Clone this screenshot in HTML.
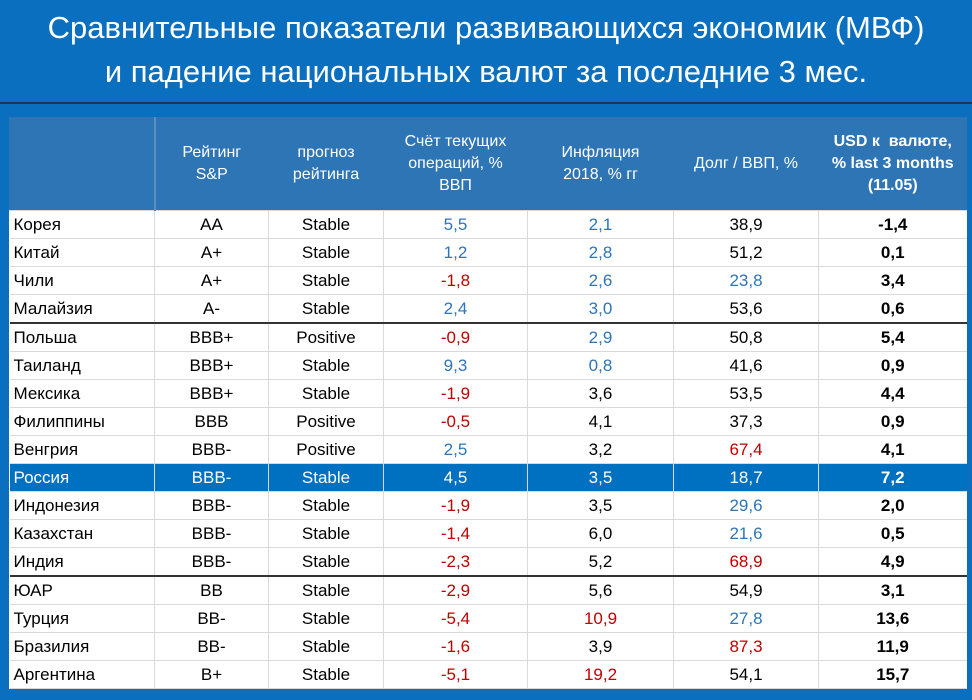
<!DOCTYPE html>
<html><head><meta charset="utf-8"><style>
body{margin:0;width:972px;height:700px;background:#0b6fc0;font-family:"Liberation Sans","DejaVu Sans",sans-serif;overflow:hidden;position:relative}
#title{position:absolute;left:0;top:6px;width:972px;text-align:center;color:#fff;font-size:31px;line-height:44px}
#topline{position:absolute;left:0;top:102px;width:972px;height:2px;background:#0d3a66}
table{position:absolute;left:9px;top:117px;border-collapse:collapse;table-layout:fixed;background:#fff;font-size:17px}
td,th{padding:0;text-align:center;border-left:1px solid #d9d9d9;border-bottom:1px solid #d9d9d9;height:27px;white-space:nowrap;overflow:hidden}
th{background:#2e75b6;color:#fff;font-weight:normal;height:93px;line-height:22px;font-size:16px;border-left:1px solid #2e75b6}
th.b{font-weight:bold}
th:nth-child(2){border-left:2px solid #5b8fc4}
td:first-child{text-align:left;padding-left:4px;border-left:none}
.bl{color:#2e75b6}.rd{color:#c00000}.bo{font-weight:bold}
tr.sep td{border-bottom:2px solid #333}
tr.ru td{background:#0070c0;color:#fff}
</style></head><body>
<div id="title">Сравнительные показатели развивающихся экономик (МВФ)<br>и падение национальных валют за последние 3 мес.</div>
<div id="topline"></div>
<table>
<colgroup><col style="width:145px"><col style="width:114px"><col style="width:115px"><col style="width:144px"><col style="width:146px"><col style="width:145px"><col style="width:148px"></colgroup>
<tr><th></th><th>Рейтинг<br>S&amp;P</th><th>прогноз<br>рейтинга</th><th>Счёт текущих<br>операций, %<br>ВВП</th><th>Инфляция<br>2018, % гг</th><th>Долг / ВВП, %</th><th class="b">USD к&nbsp; валюте,<br>% last 3 months<br>(11.05)</th></tr>
<tbody id="tb"></tbody>
</table>
<script>
const countries=["Корея","Китай","Чили","Малайзия","Польша","Таиланд","Мексика","Филиппины","Венгрия","Россия","Индонезия","Казахстан","Индия","ЮАР","Турция","Бразилия","Аргентина"];
const ratings=["AA","A+","A+","A-","BBB+","BBB+","BBB+","BBB","BBB-","BBB-","BBB-","BBB-","BBB-","BB","BB-","BB-","B+"];
const outlooks=["Stable","Stable","Stable","Stable","Positive","Stable","Stable","Positive","Positive","Stable","Stable","Stable","Stable","Stable","Stable","Stable","Stable"];
const currentAccount=["5,5","1,2","-1,8","2,4","-0,9","9,3","-1,9","-0,5","2,5","4,5","-1,9","-1,4","-2,3","-2,9","-5,4","-1,6","-5,1"];
const caColor=["bl","bl","rd","bl","rd","bl","rd","rd","bl","","rd","rd","rd","rd","rd","rd","rd"];
const inflation=["2,1","2,8","2,6","3,0","2,9","0,8","3,6","4,1","3,2","3,5","3,5","6,0","5,2","5,6","10,9","3,9","19,2"];
const infColor=["bl","bl","bl","bl","bl","bl","","","","","","","","","rd","","rd"];
const debt=["38,9","51,2","23,8","53,6","50,8","41,6","53,5","37,3","67,4","18,7","29,6","21,6","68,9","54,9","27,8","87,3","54,1"];
const debtColor=["","","bl","","","","","","rd","","bl","bl","rd","","bl","rd",""];
const usdChange=["-1,4","0,1","3,4","0,6","5,4","0,9","4,4","0,9","4,1","7,2","2,0","0,5","4,9","3,1","13,6","11,9","15,7"];
const tb=document.getElementById('tb');
countries.forEach((c,i)=>{
 const tr=document.createElement('tr');
 
 
 if(i===3||i===12)tr.className='sep';
 if(i===9)tr.className='ru';
 const cells=[[c,''],[ratings[i],''],[outlooks[i],''],[currentAccount[i],caColor[i]],[inflation[i],infColor[i]],[debt[i],debtColor[i]],[usdChange[i],'bo']];
 const names=['country','rating','outlook','current-account','inflation','debt','usd-change'];
 cells.forEach((v,j)=>{
  const td=document.createElement('td');
  
  
  td.textContent=v[0];
  if(v[1]&&i!==9)td.className=v[1];
  if(v[1]==='bo')td.className='bo';
  tr.appendChild(td);
 });
 tb.appendChild(tr);
});
</script>
</body></html>
